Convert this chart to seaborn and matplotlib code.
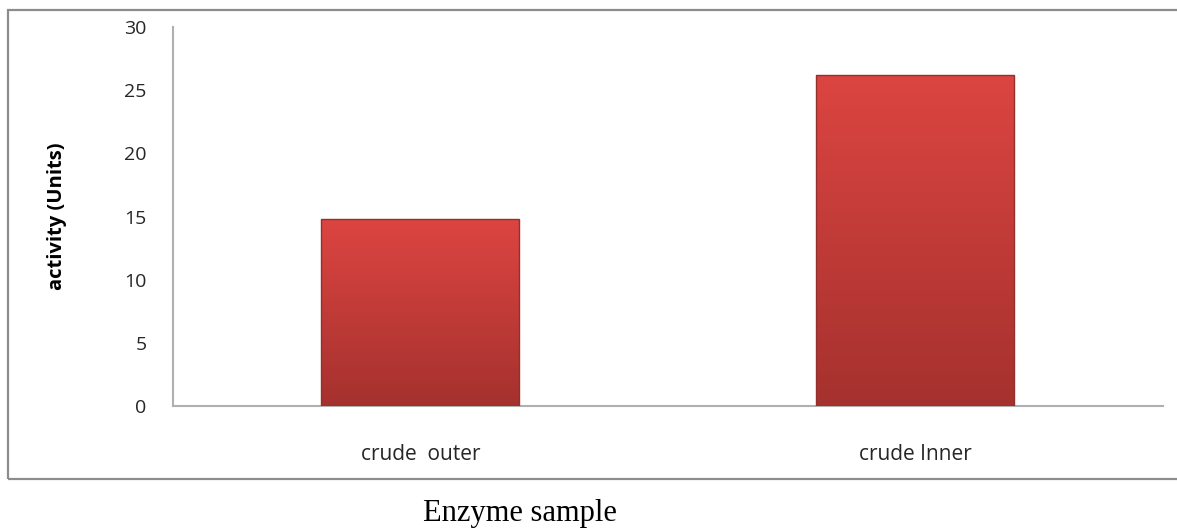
import numpy as np
import pandas as pd
import seaborn as sns
import matplotlib.pyplot as plt
from matplotlib.patches import Rectangle
from matplotlib.colors import LinearSegmentedColormap

samples = ["crude  outer", "crude Inner"]
activity = [14.8, 26.2]
y_ticks = [0, 5, 10, 15, 20, 25, 30]

TOP = "#dc4541"
BOTTOM = "#a5312e"
EDGE = "#93302d"
AXIS = "#b0b0b0"
TEXT = "#262626"

sns.set_theme(style="white")
plt.rcParams["font.family"] = ["Open Sans", "DejaVu Sans"]

df = pd.DataFrame({"sample": samples, "activity": activity})

fig = plt.figure(figsize=(11.77, 5.29), dpi=100)
ax = fig.add_axes([0.147, 0.2325, 0.841, 0.716])

sns.barplot(data=df, x="sample", y="activity", color=TOP, width=0.4,
            saturation=1, ax=ax, zorder=2)

# vertical gradient inside each bar, clipped to the bar itself
cmap = LinearSegmentedColormap.from_list("bar", [BOTTOM, TOP])
grad = np.linspace(0, 1, 256).reshape(-1, 1)
for bar in list(ax.patches):
    x0, y0 = bar.get_x(), bar.get_y()
    w, h = bar.get_width(), bar.get_height()
    im = ax.imshow(grad, cmap=cmap, origin="lower", aspect="auto",
                   extent=(x0, x0 + w, y0, y0 + h), zorder=3)
    im.set_clip_path(bar)
    ax.add_patch(Rectangle((x0, y0), w, h, fill=False, edgecolor=EDGE,
                           linewidth=1.0, zorder=4))

ax.set_xlim(-0.5, 1.5)
ax.set_ylim(0, 30)
ax.set_yticks(y_ticks)
ax.tick_params(axis="y", length=0, pad=19, labelsize=14, labelcolor=TEXT)
ax.tick_params(axis="x", length=0, pad=27, labelsize=15, labelcolor=TEXT)
ax.set_xlabel("")
ax.set_ylabel("activity (Units)", fontsize=14.5, fontweight="bold",
              color="black", labelpad=41)

for s in ("top", "right"):
    ax.spines[s].set_visible(False)
for s in ("left", "bottom"):
    ax.spines[s].set_color(AXIS)
    ax.spines[s].set_linewidth(1.5)

# outer chart frame
fig.patches.append(Rectangle((8 / 1177, 1 - 479 / 529), 1.2, (479 - 10) / 529,
                             transform=fig.transFigure, fill=False,
                             edgecolor="#8c8c8c", linewidth=1.6))

fig.text(520 / 1177, 1 - 521 / 529, "Enzyme sample", ha="center", va="baseline",
         fontsize=22, family=["Liberation Serif", "DejaVu Serif"], color="black")

fig.savefig("out.png", dpi=100)
